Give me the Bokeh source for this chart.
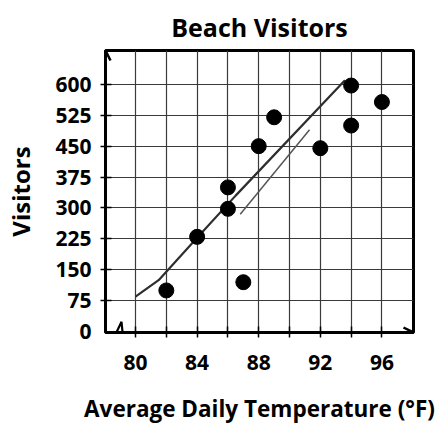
from bokeh.plotting import figure
from bokeh.models import FixedTicker, Range1d, Arrow, OpenHead
from bokeh.embed import file_html
from bokeh.resources import INLINE

# ---- data ----
temps = [82, 84, 86, 86, 87, 88, 89, 92, 94, 94, 96]
visitors = [100, 230, 350, 298, 120, 450, 520, 445, 597, 500, 557]

trend_x = [80, 81.5, 84, 86.5, 93.6]
trend_y = [85, 125, 228, 330, 610]
trend2_x = [86.8, 91.3]
trend2_y = [285, 490]

x_ticks = [80, 82, 84, 86, 88, 90, 92, 94, 96]
x_tick_labels = ["80", "", "84", "", "88", "", "92", "", "96"]
y_ticks = [75, 150, 225, 300, 375, 450, 525, 600]
y_tick_labels = ["75", "150", "225", "300", "375", "450", "525", "600"]
origin_pos = 0
origin_label = "0"

X0, X1 = 78.05, 98.05
Y0, Y1 = -2, 682

FONT = "Open Sans"

p = figure(width=436, height=426, output_backend="svg", toolbar_location=None,
           x_range=Range1d(X0, X1), y_range=Range1d(Y0, Y1),
           min_border_left=105, min_border_right=23, min_border_top=50,
           min_border_bottom=93, title="Beach Visitors")

p.title.text_font = FONT
p.title.text_font_size = "25px"
p.title.text_font_style = "bold"
p.title.align = "center"
p.title.text_color = "black"
p.title.standoff = 14

p.xgrid.ticker = FixedTicker(ticks=x_ticks)
p.ygrid.ticker = FixedTicker(ticks=y_ticks)
for g in (p.xgrid[0], p.ygrid[0]):
    g.grid_line_color = "#3a3a3a"
    g.grid_line_width = 1.2

p.outline_line_color = "black"
p.outline_line_width = 3
p.background_fill_color = "white"
p.border_fill_color = "white"

# x axis
xa = p.xaxis[0]
xa.ticker = FixedTicker(ticks=x_ticks)
xa.major_label_overrides = {t: l for t, l in zip(x_ticks, x_tick_labels)}
xa.major_tick_line_color = "black"

# y axis: labels on major ticks (incl. the "0"), visible tick marks as minor ticks
ya = p.yaxis[0]
ya.ticker = FixedTicker(ticks=[origin_pos] + y_ticks, minor_ticks=y_ticks)
ya.major_label_overrides = dict(zip([origin_pos] + y_ticks, [origin_label] + y_tick_labels))
ya.bounds = (-45, Y1)
ya.major_tick_line_color = None
ya.minor_tick_line_color = "black"
ya.minor_tick_line_width = 1.5
ya.minor_tick_in = 6
ya.minor_tick_out = 5

for ax in (xa, ya):
    ax.axis_line_color = None
    ax.major_tick_in = 6
    ax.major_tick_out = 5
    ax.major_tick_line_width = 1.5
    ax.major_label_text_font = FONT
    ax.major_label_text_font_style = "bold"
    ax.major_label_text_font_size = "21px"
    ax.major_label_text_color = "black"
    ax.axis_label_text_font = FONT
    ax.axis_label_text_font_style = "bold"
    ax.axis_label_text_color = "black"
xa.minor_tick_line_color = None

xa.axis_label = "Average Daily Temperature (°F)"
xa.axis_label_text_font_size = "22.5px"
xa.major_label_standoff = 17
xa.axis_label_standoff = 20
ya.axis_label = "Visitors"
ya.axis_label_text_font_size = "24px"
ya.major_label_standoff = 9
ya.axis_label_standoff = 15

# axis arrows
p.add_layout(Arrow(x_start=X0, y_start=600, x_end=X0, y_end=Y1,
                   line_width=2.5, line_color="black",
                   end=OpenHead(size=10, line_width=2.5, line_color="black")))
p.add_layout(Arrow(x_start=96, y_start=Y0, x_end=X1, y_end=Y0,
                   line_width=2.5, line_color="black",
                   end=OpenHead(size=10, line_width=2.5, line_color="black")))

# axis break squiggle (decoration)
sq_x = [78.76, 79.09, 79.22, 79.48]
sq_y = [Y0, 24, -26, Y0]
p.line(sq_x, sq_y, line_color="black", line_width=2.2)

# hand-drawn trend lines
p.line(trend_x, trend_y, line_color="#2e2e2e", line_width=2.2)
p.line(trend2_x, trend2_y, line_color="#555555", line_width=1.5)

# data points
p.scatter(temps, visitors, size=15, color="black")

open("out.html", "w").write(file_html(p, INLINE))
